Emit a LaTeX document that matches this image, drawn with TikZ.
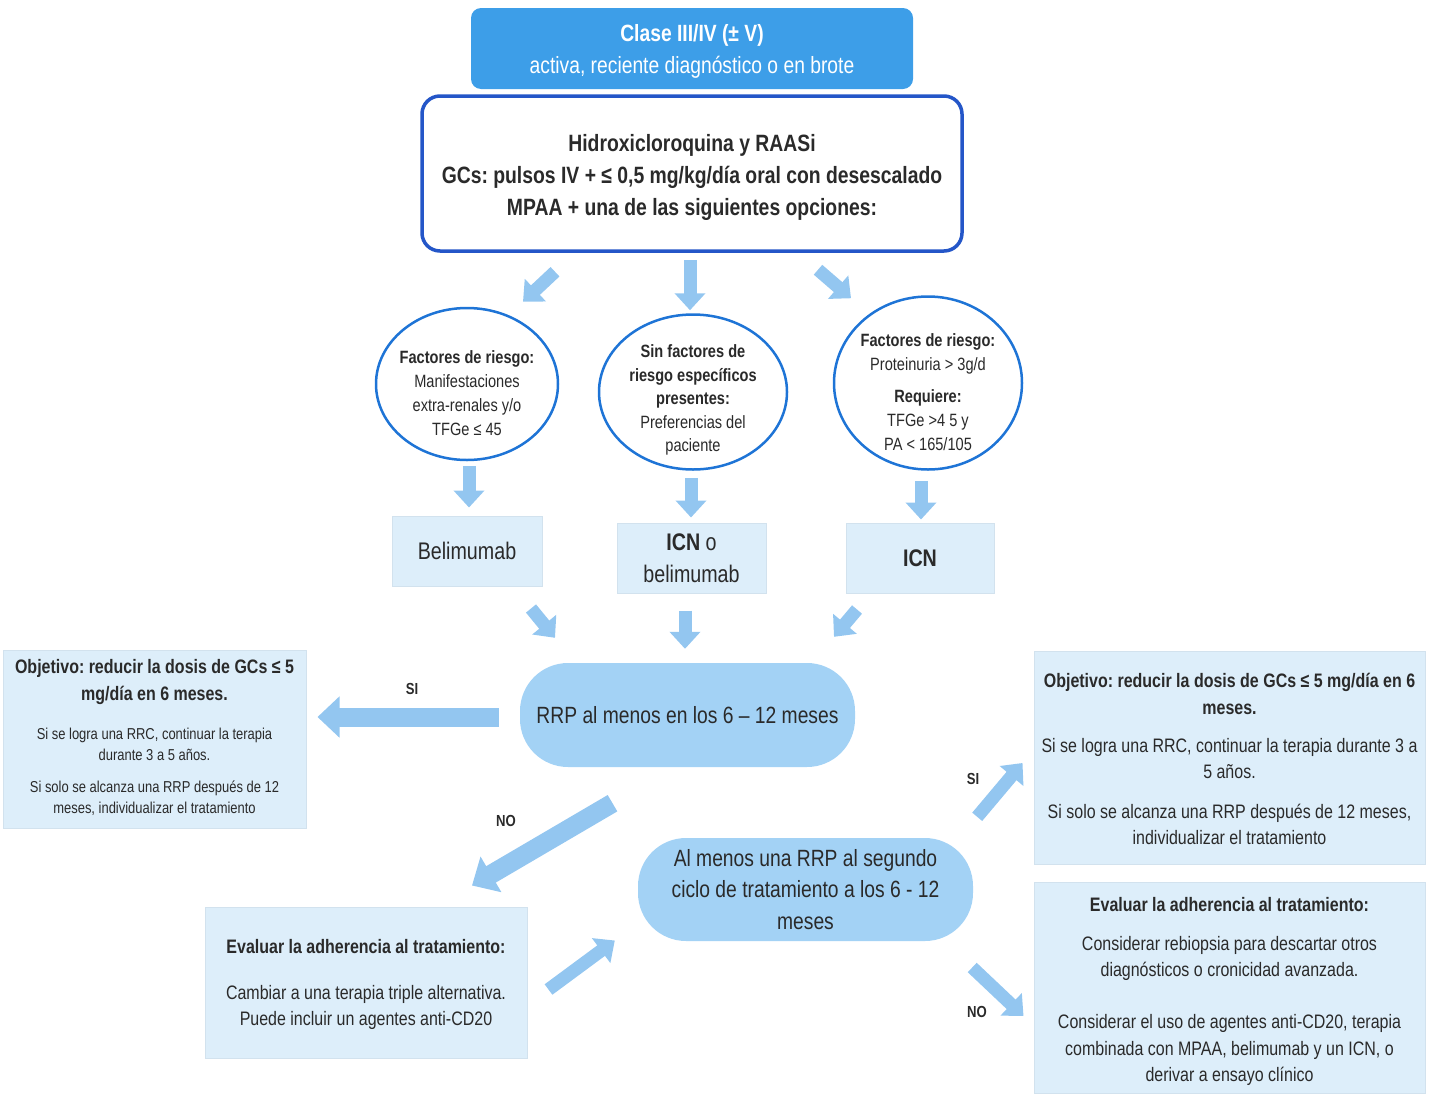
\documentclass[tikz,border=0pt]{standalone}
\usepackage{fontspec}
\setmainfont[FakeStretch=0.82]{Liberation Sans}
\usetikzlibrary{arrows.meta,shapes.geometric,calc}
\definecolor{topblue}{HTML}{3D9EE8}
\definecolor{mainblue}{HTML}{2456C8}
\definecolor{ellblue}{HTML}{1E74D6}
\definecolor{arrowblue}{HTML}{93C6F0}
\definecolor{lightbox}{HTML}{DDEEFA}
\definecolor{boxedge}{HTML}{D2E2EE}
\definecolor{stadium}{HTML}{A3D2F5}
\definecolor{txtgray}{HTML}{2A2A2A}
\frenchspacing
\begin{document}
\begin{tikzpicture}[x=1pt,y=-1pt,
  txt/.style={text=txtgray, align=center, inner sep=0pt},
  topbox/.style={rounded corners=10pt, fill=topblue, minimum width=442pt, minimum height=81pt, inner sep=0pt},
  mainbox/.style={draw=mainblue, line width=3.5pt, rounded corners=18pt, fill=white, minimum width=540pt, minimum height=155pt, inner sep=0pt},
  ell/.style={ellipse, draw=ellblue, line width=2.5pt, fill=white, inner sep=0pt},
  optbox/.style={fill=lightbox, draw=boxedge, line width=1pt, inner sep=0pt},
  stad/.style={fill=stadium, rounded corners=48pt, inner sep=0pt},
  barrow/.style={draw=arrowblue, line width=13pt, -{Triangle[width=30pt,length=17pt]}},
  bigarrow/.style={draw=arrowblue, line width=19pt, -{Triangle[width=40pt,length=22pt]}},
  lab/.style={text=txtgray, font=\bfseries\fontsize{16}{19}\selectfont, inner sep=0pt}
]
\useasboundingbox (0,0) rectangle (1435,1095);

% shapes
\node[topbox] (top) at (692,48.5) {};
\node[mainbox] (main) at (692,173.5) {};
\node[ell, minimum width=182pt, minimum height=152pt] (e1) at (467,384) {};
\node[ell, minimum width=188pt, minimum height=155pt] (e2) at (693,392) {};
\node[ell, minimum width=188pt, minimum height=173pt] (e3) at (928,383) {};
\node[optbox, minimum width=150pt, minimum height=70pt] (b1) at (467,551) {};
\node[optbox, minimum width=149pt, minimum height=70pt] (b2) at (691.5,558) {};
\node[optbox, minimum width=148pt, minimum height=70pt] (b3) at (920,558) {};
\node[stad, minimum width=335pt, minimum height=104pt] (rrp) at (687.5,715) {};
\node[stad, minimum width=335pt, minimum height=103pt] (st2) at (805.5,889.5) {};
\node[optbox, minimum width=303pt, minimum height=178pt] (lbox) at (154.5,739) {};
\node[optbox, minimum width=322pt, minimum height=151pt] (blbox) at (366,982.5) {};
\node[optbox, minimum width=391pt, minimum height=213pt] (rbox1) at (1229.5,757.5) {};
\node[optbox, minimum width=391pt, minimum height=211pt] (rbox2) at (1229.5,987.5) {};

% texts
\node[txt, text=white, font=\fontsize{23.5}{32}\selectfont] (ttop) at (692,51.5) {\textbf{Clase III/IV (± V)}\\activa, reciente diagnóstico o en brote};
\node[txt, font=\bfseries\fontsize{23.6}{32}\selectfont] (tmain) at (692,177) {Hidroxicloroquina y RAASi\\GCs: pulsos IV + ≤ 0,5 mg/kg/día oral con desescalado\\MPAA + una de las siguientes opciones:};
\node[txt, font=\fontsize{17.8}{24}\selectfont] (te1) at (467,393) {\textbf{Factores de riesgo:}\\Manifestaciones\\extra-renales y/o\\TFGe ≤ 45};
\node[txt, font=\fontsize{17.8}{23.5}\selectfont] (te2) at (693,400) {\textbf{Sin factores de}\\\textbf{riesgo específicos}\\\textbf{presentes:}\\Preferencias del\\paciente};
\node[txt, font=\fontsize{17.8}{24}\selectfont] (te3) at (928,392) {\textbf{Factores de riesgo:}\\Proteinuria > 3g/d\\[8pt]\textbf{Requiere:}\\TFGe >4 5 y\\PA < 165/105};
\node[txt, font=\fontsize{24}{32}\selectfont] (tb1) at (b1) {Belimumab};
\node[txt, font=\fontsize{24}{32}\selectfont] (tb2) at (b2) {\textbf{ICN} o\\belimumab};
\node[txt, font=\bfseries\fontsize{24}{32}\selectfont] (tb3) at (b3) {ICN};
\node[txt, font=\fontsize{23.5}{32}\selectfont] (trrp) at (rrp) {RRP al menos en los 6 – 12 meses};
\node[txt, font=\fontsize{23.5}{31.5}\selectfont] (tst2) at (st2) {Al menos una RRP al segundo\\ciclo de tratamiento a los 6 - 12\\meses};

\node[txt, font=\bfseries\fontsize{19.5}{27}\selectfont] (tl1) at (154.5,682) {Objetivo: reducir la dosis de GCs ≤ 5\\mg/día en 6 meses.};
\node[txt, font=\fontsize{15.8}{21}\selectfont] (tl2) at (154.5,744) {Si se logra una RRC, continuar la terapia\\durante 3 a 5 años.};
\node[txt, font=\fontsize{15.8}{21}\selectfont] (tl3) at (154.5,798) {Si solo se alcanza una RRP después de 12\\meses, individualizar el tratamiento};

\node[txt, font=\bfseries\fontsize{19.5}{26}\selectfont] (tbl1) at (366,947) {Evaluar la adherencia al tratamiento:};
\node[txt, font=\fontsize{19.5}{26}\selectfont] (tbl2) at (366,1007) {Cambiar a una terapia triple alternativa.\\Puede incluir un agentes anti-CD20};

\node[txt, font=\bfseries\fontsize{19.5}{27}\selectfont] (tr1) at (1229.5,694) {Objetivo: reducir la dosis de GCs ≤ 5 mg/día en 6\\meses.};
\node[txt, font=\fontsize{19.5}{26}\selectfont] (tr2) at (1229.5,759) {Si se logra una RRC, continuar la terapia durante 3 a\\5 años.};
\node[txt, font=\fontsize{19.5}{26}\selectfont] (tr3) at (1229.5,824) {Si solo se alcanza una RRP después de 12 meses,\\individualizar el tratamiento};

\node[txt, font=\bfseries\fontsize{19.5}{26}\selectfont] (tr4) at (1229.5,905) {Evaluar la adherencia al tratamiento:};
\node[txt, font=\fontsize{19.5}{26}\selectfont] (tr5) at (1229.5,958) {Considerar rebiopsia para descartar otros\\diagnósticos o cronicidad avanzada.};
\node[txt, font=\fontsize{19.5}{26.5}\selectfont] (tr6) at (1229.5,1050) {Considerar el uso de agentes anti-CD20, terapia\\combinada con MPAA, belimumab  y un ICN, o\\derivar a ensayo clínico};

% labels
\node[lab] (si1) at (412,689) {SI};
\node[lab] (no1) at (506,821) {NO};
\node[lab] (si2) at (973,779) {SI};
\node[lab] (no2) at (977,1012) {NO};

% arrows
\draw[barrow] ($(main.south)+(-137,19)$) -- ($(e1.north)+(56,-5)$);
\draw[barrow] ($(main.south)+(-2,7)$) -- ($(e2.north)+(-3,-3)$);
\draw[barrow] ($(main.south)+(126,17)$) -- ($(e3.north)+(-77,3)$);
\draw[barrow] ($(e1.south)+(2,5)$) -- ($(b1.north)+(2,-8)$);
\draw[barrow] ($(e2.south)+(-2,7)$) -- ($(b2.north)+(-0.5,-5)$);
\draw[barrow] ($(e3.south)+(-7,10)$) -- ($(b3.north)+(1,-3)$);
\draw[barrow] ($(b1.south)+(64,22)$) -- ($(rrp.north)+(-132.5,-25)$);
\draw[barrow] ($(b2.south)+(-6.5,17)$) -- ($(rrp.north)+(-2.5,-14)$);
\draw[barrow] ($(b3.south)+(-63,16)$) -- ($(rrp.north)+(146.5,-26)$);
\draw[bigarrow] ($(rrp.west)+(-21,2)$) -- ($(lbox.east)+(11,-22)$);
\draw[bigarrow] ($(rrp.south)+(-75,36)$) -- ($(blbox.north)+(106,-21)$);
\draw[barrow] ($(blbox.east)+(21,7)$) -- ($(st2.west)+(-23,51)$);
\draw[barrow] ($(st2.north east)+(4,-21)$) -- ($(rbox1.west)+(-11,5.5)$);
\draw[barrow] ($(st2.east)+(-1,78)$) -- ($(rbox2.west)+(-10,28.5)$);
\end{tikzpicture}
\end{document}
